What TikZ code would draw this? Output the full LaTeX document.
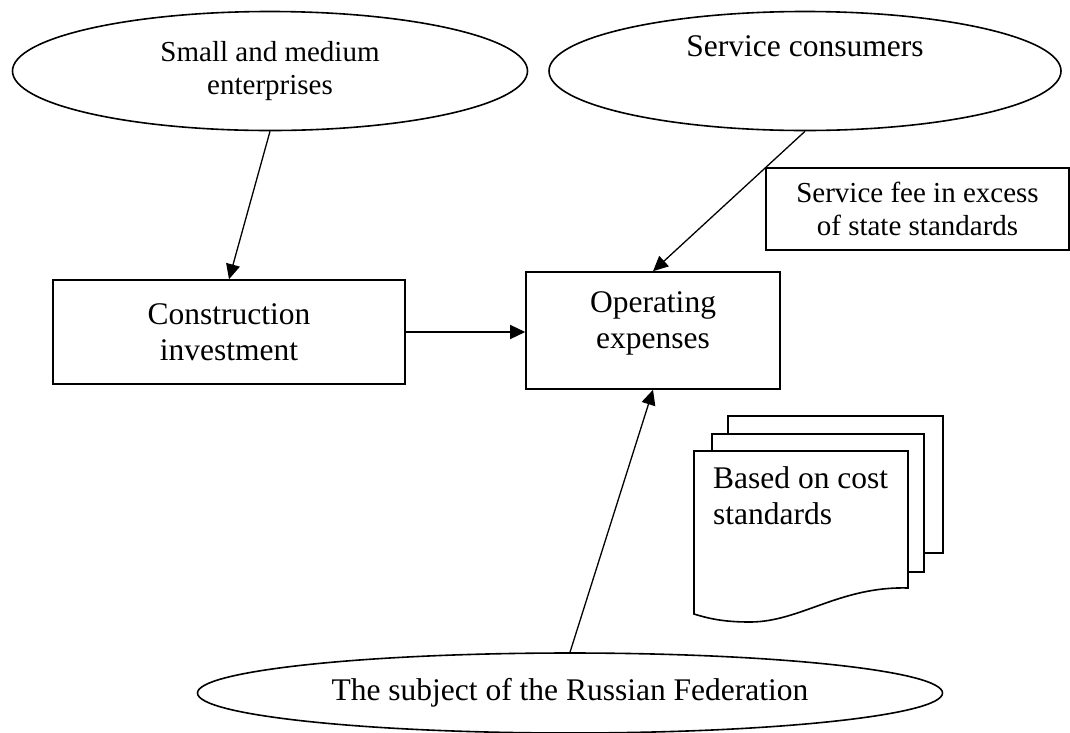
\documentclass[tikz,border=0pt]{standalone}
\usepackage{fontspec}
\setmainfont{Liberation Serif}
\usetikzlibrary{arrows.meta, shapes.geometric}

\newcommand{\smalltext}{\fontsize{29}{33}\selectfont}
\newcommand{\bigtext}{\fontsize{31.5}{36}\selectfont}

\begin{document}
\begin{tikzpicture}[x=1pt, y=-1pt,
  oval/.style={draw, ellipse, line width=1.6pt, inner sep=0pt, align=center},
  box/.style={draw, rectangle, line width=1.6pt, inner sep=0pt, align=center},
  flow/.style={line width=1.3pt, -{Triangle[length=15pt, width=14pt]}},
  page/.style={draw, fill=white, line width=1.6pt}]
\fill[white] (0,0) rectangle (1070,732);
\useasboundingbox (0,0) rectangle (1070,732);

\node[oval, font=\smalltext, minimum width=515, minimum height=119] (sme) at (270,71) {Small and medium\\enterprises};
\node[oval, font=\bigtext, minimum width=512, minimum height=119] (cons) at (805,71) {Service consumers\\[14pt]};
\node[box, font=\smalltext, minimum width=303, minimum height=82] (fee) at (917.5,209) {Service fee in excess\\of state standards};
\node[box, font=\bigtext, minimum width=352, minimum height=104] (inv) at (229,332) {Construction\\investment};
\node[box, font=\bigtext, minimum width=254, minimum height=117] (opex) at (653,330.5) {Operating\\expenses\\[-16pt]};
\node[oval, font=\bigtext, minimum width=745, minimum height=80] (subj) at (570,693) {The subject of the Russian Federation};

% stacked documents
\draw[page] (728,416) rectangle (943,553);
\draw[page] (712,434) rectangle (924,572);
\draw[page] (694,451) -- (908,451) -- (908,588)
  .. controls (840,586) and (800,622) .. (750,622)
  .. controls (725,622) and (710,619) .. (694,614) -- cycle;
\node[anchor=north west, inner sep=0pt, align=left, font=\bigtext] (docs) at (713,466) {Based on cost\\standards};

\draw[flow] (sme.south) -- (inv.north);
\draw[flow] (cons.south) -- (opex.north);
\draw[flow] (inv.east) -- (inv.east -| opex.west);
\draw[flow] (subj.north) -- (opex.south);
\end{tikzpicture}
\end{document}
